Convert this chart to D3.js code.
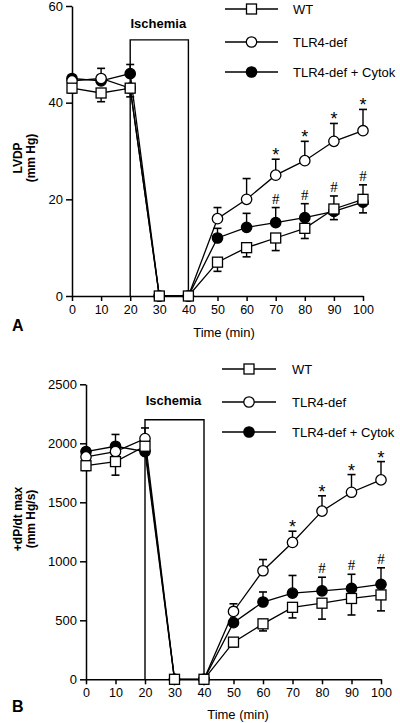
<!DOCTYPE html>
<html><head><meta charset="utf-8">
<script src="https://cdn.jsdelivr.net/npm/d3@7"></script>
<style>
body{margin:0;background:#fff}
svg{display:block}
text{font-family:"Liberation Sans",Arial,Helvetica,sans-serif;fill:#000;font-weight:normal}
</style>
</head><body>
<svg id="c" width="400" height="723"></svg>
<script>
// ---------- data ----------
const times = [0, 10, 20, 30, 40, 50, 60, 70, 80, 90, 100];
const xTickValues = [0, 10, 20, 30, 40, 50, 60, 70, 80, 90, 100];
const seriesNames = ["WT", "TLR4-def", "TLR4-def + Cytok"];
const ischemiaStart = 20, ischemiaEnd = 40;

// Panel A: LVDP (mm Hg)
const lvdpTicks = [0, 20, 40, 60];
const lvdpWT      = [43, 42, 43, 0, 0, 7, 10, 12, 14, 18, 20];
const lvdpWTErr   = [1, 1.8, 1.8, 0, 0, 1.9, 1.9, 2.6, 2.1, 2.2, 2.8];      // drawn downward
const lvdpTLR     = [44.5, 45, 43, 0, 0, 16, 20, 25, 28, 32, 34.2];
const lvdpTLRErr  = [0.8, 2.1, 0, 0, 0, 2.3, 4.3, 3.3, 4, 3.7, 4.4];        // drawn upward
const lvdpCyt     = [45, 44.5, 46, 0, 0, 12, 14.2, 15.2, 16.2, 17.5, 19.4];
const lvdpCytErr  = [0.5, 0, 1.9, 0, 0, 2, 2.9, 3.1, 2.9, 3.2, 3.6];        // drawn upward
const lvdpIschemiaTop = 53;
const lvdpStars  = ["", "", "", "", "", "", "", "*", "*", "*", "*"];
const lvdpHashes = ["", "", "", "", "", "", "", "#", "#", "#", "#"];

// Panel B: +dP/dt max (mm Hg/s)
const dpdtTicks = [0, 500, 1000, 1500, 2000, 2500];
const dpdtWT      = [1810, 1845, 1975, 0, 0, 315, 470, 610, 645, 685, 715];
const dpdtWTErr   = [40, 115, 50, 0, 0, 40, 60, 90, 135, 140, 135];
const dpdtTLR     = [1885, 1930, 2040, 0, 0, 575, 920, 1160, 1425, 1585, 1690];
const dpdtTLRErr  = [40, 60, 90, 0, 0, 65, 95, 95, 130, 150, 155];
const dpdtCyt     = [1930, 1975, 1930, 0, 0, 480, 655, 730, 750, 770, 805];
const dpdtCytErr  = [30, 100, 0, 0, 0, 0, 85, 150, 115, 120, 140];
const dpdtIschemiaTop = 2200;
const dpdtStars  = ["", "", "", "", "", "", "", "*", "*", "*", "*"];
const dpdtHashes = ["", "", "", "", "", "", "", "", "#", "#", "#"];

// ---------- drawing ----------
const svg = d3.select("#c");

function drawPanel(cfg) {
  const g = svg.append("g");
  const x = d3.scaleLinear().domain([0, 100]).range(cfg.xr);
  const y = d3.scaleLinear().domain([0, cfg.yTicks[cfg.yTicks.length - 1]]).range(cfg.yr);

  // ischemia box
  g.append("path")
    .attr("d", `M${x(ischemiaStart)},${y(0)}V${y(cfg.boxTop)}H${x(ischemiaEnd)}V${y(0)}`)
    .attr("fill", "none").attr("stroke", "#000").attr("stroke-width", 1.4);
  g.append("text").attr("x", (x(ischemiaStart) + x(ischemiaEnd)) / 2 - 1)
    .attr("y", cfg.ischY).attr("text-anchor", "middle")
    .style("font-size", "13px").style("font-weight", "bold").text("Ischemia");

  // axes
  const yAx = g.append("g").attr("transform", `translate(${cfg.xr[0]},0)`)
    .call(d3.axisLeft(y).tickValues(cfg.yTicks).tickFormat(d3.format("d"))
      .tickSize(6).tickSizeOuter(0).tickPadding(3));
  yAx.selectAll("text").style("font-size", "13px");
  const xAx = g.append("g").attr("transform", `translate(0,${cfg.yr[0]})`)
    .call(d3.axisBottom(x).tickValues(xTickValues).tickFormat(d3.format("d"))
      .tickSize(5).tickSizeOuter(0).tickPadding(4));
  xAx.selectAll("text").style("font-size", "12.5px");
  [yAx, xAx].forEach(a => {
    a.selectAll("path,line").attr("stroke", "#000").attr("stroke-width", 1.5);
  });

  // axis titles
  g.append("text").attr("x", cfg.timeX).attr("y", cfg.timeY).attr("text-anchor", "middle")
    .style("font-size", "13px").text("Time (min)");
  g.append("text").attr("x", 12).attr("y", cfg.letterY)
    .style("font-size", "16px").style("font-weight", "bold").text(cfg.letter);
  cfg.yLabel.forEach((t, i) => {
    g.append("text")
      .attr("transform", `translate(${cfg.yLabX[i]},${cfg.yLabY}) rotate(-90)`)
      .attr("text-anchor", "middle")
      .style("font-size", "12px").style("font-weight", "bold").text(t);
  });

  const series = cfg.series;
  const line = d3.line().x((d, i) => x(times[i])).y(d => y(d));
  series.forEach(s => {
    g.append("path").datum(s.v).attr("d", line)
      .attr("fill", "none").attr("stroke", "#000").attr("stroke-width", 1.3);
  });
  // error bars
  series.forEach(s => {
    s.v.forEach((v, i) => {
      const e = s.e[i];
      if (!e) return;
      const y1 = y(v), y2 = y(v + s.dir * e), cx = x(times[i]);
      g.append("line").attr("x1", cx).attr("x2", cx).attr("y1", y1).attr("y2", y2)
        .attr("stroke", "#000").attr("stroke-width", 1.4);
      g.append("line").attr("x1", cx - 4).attr("x2", cx + 4).attr("y1", y2).attr("y2", y2)
        .attr("stroke", "#000").attr("stroke-width", 1.6);
    });
  });
  // markers
  [2, 1, 0].forEach(k => {
    const s = series[k];
    s.v.forEach((v, i) => {
      const cx = x(times[i]), cy = y(v);
      if (s.shape === "square") {
        g.append("rect").attr("x", cx - 5).attr("y", cy - 5).attr("width", 10).attr("height", 10)
          .attr("fill", "#fff").attr("stroke", "#000").attr("stroke-width", 1.3);
      } else {
        g.append("circle").attr("cx", cx).attr("cy", cy).attr("r", 5.2)
          .attr("fill", s.shape === "filled" ? "#000" : "#fff").attr("stroke", "#000").attr("stroke-width", 1.3);
      }
    });
  });
  // significance marks
  cfg.stars.forEach((t, i) => {
    if (!t) return;
    const s = series[1];
    g.append("text").attr("x", x(times[i])).attr("y", y(s.v[i] + s.e[i]) + 2)
      .attr("text-anchor", "middle").style("font-size", "18px").text(t);
  });
  cfg.hashes.forEach((t, i) => {
    if (!t) return;
    const s = series[2];
    g.append("text").attr("x", x(times[i])).attr("y", y(s.v[i] + s.e[i]) - 4)
      .attr("text-anchor", "middle").style("font-family", "'Liberation Serif','Times New Roman',serif")
      .style("font-size", "15px").text(t);
  });

  // legend
  const shapes = ["square", "open", "filled"];
  cfg.legY.forEach((ly, k) => {
    g.append("line").attr("x1", cfg.legX[0]).attr("x2", cfg.legX[1]).attr("y1", ly).attr("y2", ly)
      .attr("stroke", "#000").attr("stroke-width", 1.3);
    const mx = (cfg.legX[0] + cfg.legX[1]) / 2;
    if (shapes[k] === "square") {
      g.append("rect").attr("x", mx - 5).attr("y", ly - 5).attr("width", 10).attr("height", 10)
        .attr("fill", "#fff").attr("stroke", "#000").attr("stroke-width", 1.3);
    } else {
      g.append("circle").attr("cx", mx).attr("cy", ly).attr("r", 5.2)
        .attr("fill", shapes[k] === "filled" ? "#000" : "#fff").attr("stroke", "#000").attr("stroke-width", 1.3);
    }
    g.append("text").attr("x", cfg.legText).attr("y", ly + 5)
      .style("font-size", "13px").text(seriesNames[k]);
  });
}

drawPanel({
  xr: [72, 363], yr: [296, 6], yTicks: lvdpTicks, boxTop: lvdpIschemiaTop, ischY: 28,
  timeX: 224, timeY: 337, letter: "A", letterY: 331,
  yLabel: ["LVDP", "(mm Hg)"], yLabX: [22, 35], yLabY: 158,
  series: [
    { v: lvdpWT, e: lvdpWTErr, dir: -1, shape: "square" },
    { v: lvdpTLR, e: lvdpTLRErr, dir: 1, shape: "open" },
    { v: lvdpCyt, e: lvdpCytErr, dir: 1, shape: "filled" }
  ],
  stars: lvdpStars, hashes: lvdpHashes,
  legY: [9, 42, 72], legX: [225, 278], legText: 293
});

drawPanel({
  xr: [86, 381], yr: [679.3, 384.3], yTicks: dpdtTicks, boxTop: dpdtIschemiaTop, ischY: 405,
  timeX: 238, timeY: 719, letter: "B", letterY: 712,
  yLabel: ["+dP/dt max", "(mm Hg/s)"], yLabX: [22, 35], yLabY: 519,
  series: [
    { v: dpdtWT, e: dpdtWTErr, dir: -1, shape: "square" },
    { v: dpdtTLR, e: dpdtTLRErr, dir: 1, shape: "open" },
    { v: dpdtCyt, e: dpdtCytErr, dir: 1, shape: "filled" }
  ],
  stars: dpdtStars, hashes: dpdtHashes,
  legY: [369, 402, 432], legX: [222, 276], legText: 292
});
</script>
</body></html>
